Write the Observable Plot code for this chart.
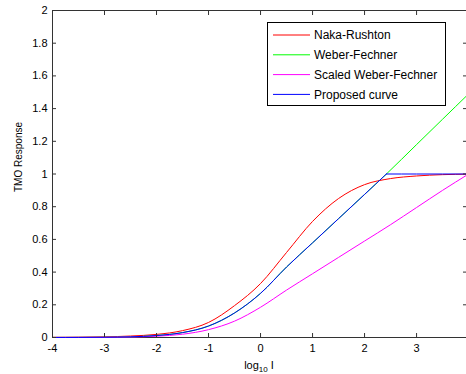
<!DOCTYPE html>
<html><head><meta charset="utf-8">
<script src="https://cdn.jsdelivr.net/npm/d3@7"></script>
<script src="https://cdn.jsdelivr.net/npm/@observablehq/plot@0.6"></script>
<style>
body{margin:0;background:#fff;}
svg{font-family:"Liberation Sans",Arial,Helvetica,sans-serif;}
</style>
</head><body><div id="chart"></div>
<script>
const xTicks = [-4,-3,-2,-1,0,1,2,3];
const xTickLabels = ["-4","-3","-2","-1","0","1","2","3"];
const yTicks = [0,0.2,0.4,0.6,0.8,1,1.2,1.4,1.6,1.8,2];
const yTickLabels = ["0","0.2","0.4","0.6","0.8","1","1.2","1.4","1.6","1.8","2"];
const seriesNames = ["Naka-Rushton","Weber-Fechner","Scaled Weber-Fechner","Proposed curve"];
const seriesColors = ["#ff0000","#00ff00","#ff00ff","#0000ff"];

const nakaX = [-4,-3.5,-3,-2.5,-2,-1.5,-1,-0.5,0,0.5,1,1.5,2,2.5,3,3.5,4];
const nakaY = [0.001,0.002,0.004,0.009,0.019,0.042,0.092,0.195,0.33,0.52,0.71,0.85,0.935,0.972,0.988,0.996,0.999];

const weberX = [-4,-3.5,-3,-2.5,-2,-1.5,-1,-0.5,0,0.5,1,1.5,2,2.42,3,3.5,4];
const weberY = [0.0003,0.0006,0.0015,0.004,0.012,0.03,0.07,0.15,0.27,0.431,0.579,0.727,0.875,1.0,1.18,1.335,1.49];

const scaledX = [-4,-3.5,-3,-2.5,-2,-1.5,-1,-0.5,0,0.5,1,1.5,2,2.5,3,3.5,4];
const scaledY = [0.0002,0.0004,0.001,0.003,0.008,0.02,0.048,0.10,0.185,0.29,0.39,0.49,0.59,0.69,0.795,0.9,1.0];

// proposed curve: rising part and saturated part
const proposedX = [-4,-3.5,-3,-2.5,-2,-1.5,-1,-0.5,0,0.5,1,1.5,2,2.42, 2.42,3,4];
const proposedY = [0.0003,0.0006,0.0015,0.004,0.012,0.03,0.07,0.15,0.27,0.431,0.579,0.727,0.875,1, 1,1,1];
const proposedPart = ["rise","rise","rise","rise","rise","rise","rise","rise","rise","rise","rise","rise","rise","rise","flat","flat","flat"];

const seriesX = [nakaX, weberX, scaledX, proposedX];
const seriesY = [nakaY, weberY, scaledY, proposedY];
const series = seriesNames.map((name, i) => ({
  name, color: seriesColors[i],
  data: seriesX[i].map((x, j) => ({x, y: seriesY[i][j], part: i === 3 ? proposedPart[j] : "all"}))
}));

const axisColor = "#333";
const svg = Plot.plot({
  width: 466,
  height: 374,
  marginLeft: 52,
  marginRight: 0,
  marginTop: 10,
  marginBottom: 37,
  style: {fontSize: "11px", color: "#000", background: "#fff"},
  x: {domain: [-4, 3.96], label: null},
  y: {domain: [0, 2], label: null},
  marks: [
    Plot.frame({stroke: axisColor}),
    ...series.map(s => Plot.line(s.data, {x: "x", y: "y", z: "part", stroke: s.color, strokeWidth: 1, curve: "monotone-x"})),
    Plot.axisX({ticks: xTicks, anchor: "bottom", tickSize: -4, fill: "none", stroke: axisColor}),
    Plot.axisX({ticks: xTicks, anchor: "top", tickSize: -4, fill: "none", stroke: axisColor}),
    Plot.axisX({ticks: xTicks, anchor: "bottom", tickSize: 0, tickPadding: 7, fontSize: 11,
      tickFormat: d => xTickLabels[xTicks.indexOf(d)]}),
    Plot.axisY({ticks: yTicks, anchor: "left", tickSize: -4, fill: "none", stroke: axisColor}),
    Plot.axisY({ticks: yTicks, anchor: "right", tickSize: -4, fill: "none", stroke: axisColor}),
    Plot.axisY({ticks: yTicks, anchor: "left", tickSize: 0, tickPadding: 5, fontSize: 11,
      tickFormat: d => yTickLabels[yTicks.indexOf(d)]})
  ]
});

const root = d3.select(svg);
// x label with subscript
const xl = root.append("text")
  .attr("x", 259).attr("y", 369)
  .attr("text-anchor", "middle").attr("font-size", 11).attr("fill", "#000");
xl.append("tspan").text("log");
xl.append("tspan").attr("font-size", 8).attr("dy", 3).text("10");
xl.append("tspan").attr("dy", -3).text(" I");
// y label
root.append("text")
  .attr("transform", "translate(22,157) rotate(-90)")
  .attr("text-anchor", "middle").attr("font-size", 10).attr("fill", "#000")
  .text("TMO Response");
// legend
const lg = root.append("g").attr("text-anchor", "start");
lg.append("rect").attr("x", 267.5).attr("y", 22.5).attr("width", 178).attr("height", 83)
  .attr("fill", "#fff").attr("stroke", "#000");
seriesNames.forEach((name, i) => {
  const yy = 35 + i * 19.8;
  lg.append("line").attr("x1", 273).attr("x2", 310).attr("y1", yy).attr("y2", yy)
    .attr("stroke", seriesColors[i]).attr("stroke-width", 1);
  lg.append("text").attr("x", 314).attr("y", yy).attr("dy", "0.35em")
    .attr("text-anchor", "start")
    .attr("font-size", 12).attr("fill", "#000").text(name);
});

document.getElementById("chart").appendChild(svg);
</script>
</body></html>
